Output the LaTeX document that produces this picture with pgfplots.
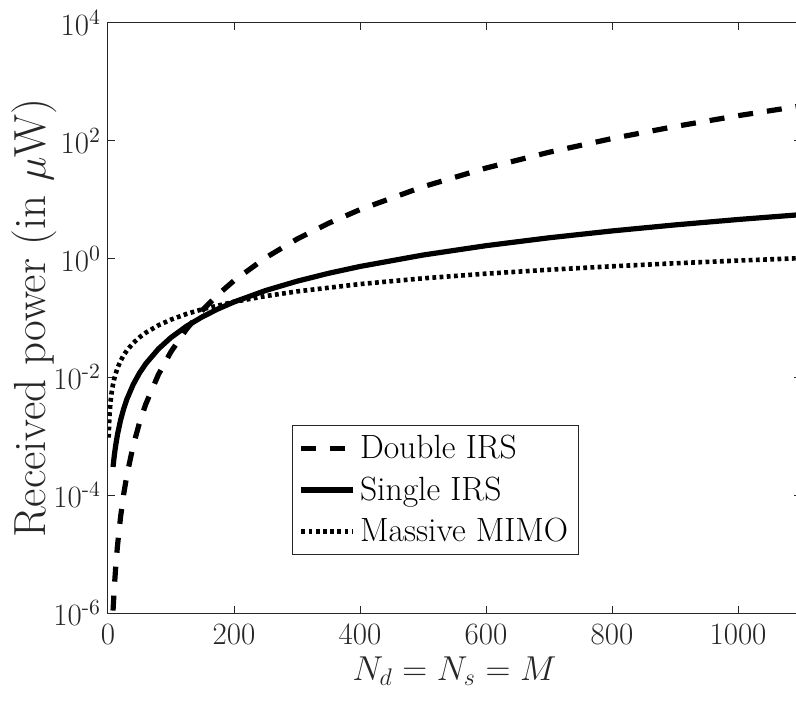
\documentclass[border=0pt]{standalone}
\usepackage{pgfplots}
\pgfplotsset{compat=1.18}
\definecolor{axgray}{HTML}{262626}
\begin{document}
\begin{tikzpicture}
\begin{axis}[
  name=ax,
  scale only axis,
  width=346.5pt, height=295pt,
  xmin=0, xmax=1100,
  ymode=log, ymin=1e-6, ymax=1e4,
  xtick={0,200,400,600,800,1000},
  ytick={1e-6,1e-4,1e-2,1,1e2,1e4},
  yticklabels={10\textsuperscript{-6},10\textsuperscript{-4},10\textsuperscript{-2},10\textsuperscript{0},10\textsuperscript{2},10\textsuperscript{4}},
  yminorticks=false,
  scaled x ticks=false,
  tick align=inside,
  major tick length=3.5pt,
  axis line style={axgray, line width=0.5pt},
  every tick/.style={axgray, line width=0.5pt},
  tick label style={font=\fontsize{15.5}{18}\selectfont, text=axgray},
  xticklabel style={yshift=-2pt},
  /pgf/number format/assume math mode=true,
  /pgf/number format/1000 sep={},
  xlabel={$N_d = N_s = M$},
  ylabel={Received power (in $\mu$W)},
  xlabel style={font=\fontsize{18.5}{22}\selectfont, text=axgray, yshift=1pt},
  ylabel style={font=\fontsize{22.5}{26}\selectfont, text=axgray, yshift=-8.5pt},
  legend style={at={(0.266,0.319)}, anchor=north west, draw=axgray, line width=0.5pt,
    font=\fontsize{16.8}{20}\selectfont, text=black, inner xsep=3pt, inner ysep=3pt,
    row sep=3.5pt, cells={anchor=west}},
  legend image code/.code={\draw[#1] (0pt,0pt) -- (26pt,0pt);},
]
\addplot[black, line width=2.6pt, dash pattern=on 7.5pt off 7pt] coordinates {
(8,1.0998e-6) (10,2.685e-6) (12,5.568e-6) (15,1.359e-5) (20,4.296e-5) (25,1.0488e-4)
(30,2.175e-4) (40,6.874e-4) (50,1.678e-3) (60,3.480e-3) (80,1.0998e-2) (100,2.685e-2)
(125,6.555e-2) (150,0.13593) (175,0.25182) (200,0.4296) (250,1.0488) (300,2.1749)
(350,4.029) (400,6.874) (500,16.78) (600,34.80) (700,64.47) (800,109.98)
(900,176.16) (1000,268.5) (1100,393.1)
};
\addlegendentry{Double IRS}
\addplot[black, line width=2.6pt] coordinates {
(8,2.989e-4) (10,4.67e-4) (12,6.725e-4) (15,1.0508e-3) (20,1.868e-3) (25,2.919e-3)
(30,4.203e-3) (40,7.472e-3) (50,1.1675e-2) (60,1.681e-2) (80,2.989e-2) (100,4.67e-2)
(125,7.297e-2) (150,0.10508) (175,0.14302) (200,0.1868) (250,0.29188) (300,0.4203)
(350,0.57208) (400,0.7472) (500,1.1675) (600,1.6812) (700,2.2883) (800,2.9888)
(900,3.7827) (1000,4.67) (1100,5.6507)
};
\addlegendentry{Single IRS}
\addplot[black, line width=2.3pt, dash pattern=on 1.9pt off 1.7pt] coordinates {
(1,9.4e-4) (2,1.88e-3) (3,2.82e-3) (4,3.76e-3) (5,4.7e-3) (6,5.64e-3) (8,7.52e-3)
(10,9.4e-3) (12,1.128e-2) (15,1.41e-2) (20,1.88e-2) (25,2.35e-2) (30,2.82e-2)
(40,3.76e-2) (50,4.7e-2) (60,5.64e-2) (80,7.52e-2) (100,9.4e-2) (125,0.1175)
(150,0.141) (200,0.188) (250,0.235) (300,0.282) (400,0.376) (500,0.47) (600,0.564)
(700,0.658) (800,0.752) (900,0.846) (1000,0.94) (1100,1.034)
};
\addlegendentry{Massive MIMO}
\end{axis}
\pgfresetboundingbox
\path ([xshift=-54pt,yshift=-46.5pt]ax.south west) rectangle ([xshift=344pt,yshift=11.5pt]ax.north west);
\end{tikzpicture}
\end{document}
